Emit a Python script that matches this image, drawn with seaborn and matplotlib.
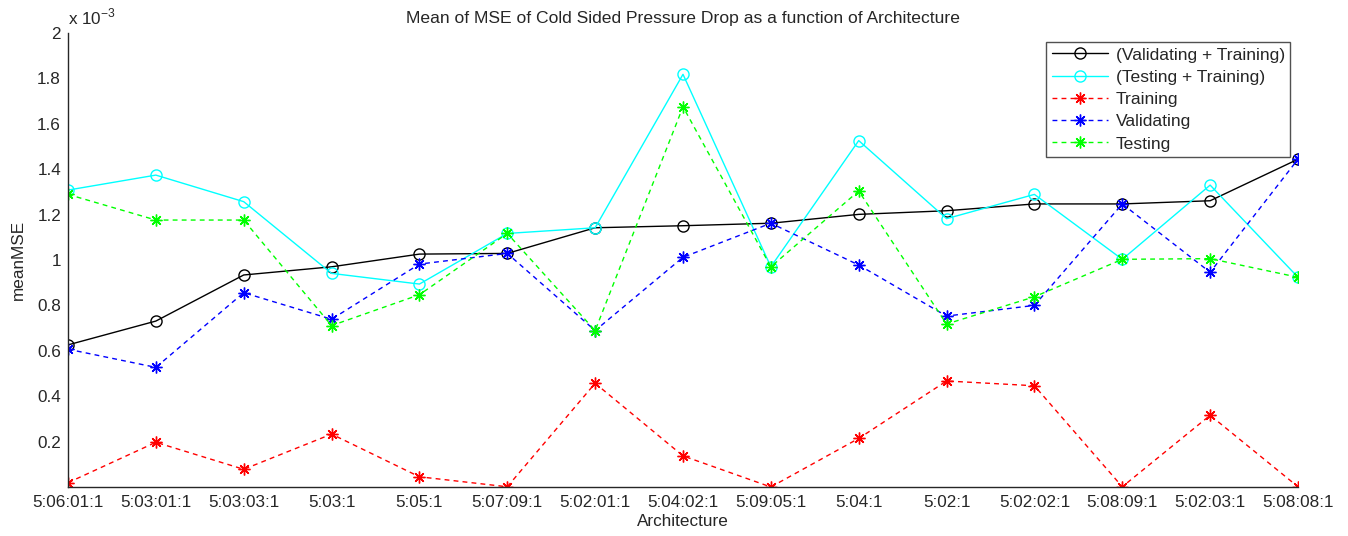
import matplotlib
matplotlib.use("Agg")
import matplotlib.pyplot as plt
import seaborn as sns
import numpy as np

architectures = ["5:06:01:1", "5:03:01:1", "5:03:03:1", "5:03:1", "5:05:1",
                 "5:07:09:1", "5:02:01:1", "5:04:02:1", "5:09:05:1", "5:04:1",
                 "5:02:1", "5:02:02:1", "5:08:09:1", "5:02:03:1", "5:08:08:1"]

# values in units of 1e-3
val_train = [0.626, 0.731, 0.934, 0.970, 1.026, 1.029, 1.142, 1.151, 1.162, 1.201,
             1.217, 1.247, 1.247, 1.261, 1.444]
test_train = [1.308, 1.374, 1.257, 0.941, 0.894, 1.117, 1.142, 1.818, 0.970, 1.526,
              1.182, 1.289, 1.003, 1.330, 0.924]
training = [0.019, 0.197, 0.078, 0.233, 0.045, 0.001, 0.457, 0.137, 0.000, 0.214,
            0.467, 0.446, 0.001, 0.316, 0.001]
validating = [0.607, 0.527, 0.856, 0.739, 0.982, 1.029, 0.689, 1.012, 1.162, 0.978,
              0.753, 0.800, 1.247, 0.946, 1.444]
testing = [1.289, 1.176, 1.176, 0.711, 0.847, 1.117, 0.689, 1.675, 0.970, 1.304,
           0.718, 0.838, 1.003, 1.006, 0.924]

sns.set_style("white")
plt.rcParams['font.family'] = ['Liberation Sans', 'DejaVu Sans']

fig = plt.figure(figsize=(13.48, 5.36), dpi=100)
ax = fig.add_axes([68/1348, 1 - 487/536, (1298 - 68)/1348, (487 - 33)/536])

x = np.arange(len(architectures))
series = [
    ("(Validating + Training)", val_train, "#000000", "-", "o"),
    ("(Testing + Training)", test_train, "#00FFFF", "-", "o"),
    ("Training", training, "#FF0000", "--", "*"),
    ("Validating", validating, "#0000FF", "--", "*"),
    ("Testing", testing, "#00FF00", "--", "*"),
]
for label, vals, col, ls, mk in series:
    if mk == "o":
        sns.lineplot(x=x, y=vals, ax=ax, color=col, linestyle=ls, marker="o",
                     markersize=8, markerfacecolor="none", markeredgecolor=col,
                     markeredgewidth=1.0, linewidth=1.0, label=label)
    else:
        sns.lineplot(x=x, y=vals, ax=ax, color=col, marker=(8, 2, 0),
                     markersize=8.5, markerfacecolor=col, markeredgecolor=col,
                     markeredgewidth=1.0, linewidth=1.0, label=label)
        ax.lines[-1].set_linestyle((0, (3.5, 3.0)))

ax.set_xlim(0, len(architectures) - 1)
ax.set_ylim(0, 2)
ax.set_xticks(x)
ax.set_xticklabels(architectures)
yt = [0.2, 0.4, 0.6, 0.8, 1.0, 1.2, 1.4, 1.6, 1.8, 2.0]
ax.set_yticks(yt)
ax.set_yticklabels(["%g" % v for v in yt])

for s in ["top", "right"]:
    ax.spines[s].set_visible(False)
for s in ["left", "bottom"]:
    ax.spines[s].set_color("#262626")
    ax.spines[s].set_linewidth(1.0)
ax.tick_params(axis="both", direction="in", length=9, width=1.0, color="#262626",
               labelsize=12.3, labelcolor="#262626", pad=6)
ax.tick_params(axis="y", pad=5)

ax.set_title("Mean of MSE of Cold Sided Pressure Drop as a function of Architecture",
             fontsize=12.6, color="#262626", pad=7)
ax.set_xlabel("Architecture", fontsize=12.3, color="#262626", labelpad=3)
ax.set_ylabel("meanMSE", fontsize=12.3, color="#262626", labelpad=8)
ax.text(0.0, 1.012, r"x 10$^{\mathregular{-3}}$", transform=ax.transAxes, fontsize=12.3,
        color="#262626", ha="left", va="bottom")

leg = ax.legend(loc="upper right",
                bbox_to_anchor=((1290 - 68) / (1298 - 68), (487 - 42) / (487 - 33)),
                fontsize=12.6, frameon=True, fancybox=False, edgecolor="#262626",
                handlelength=3.2, labelspacing=0.4, borderpad=0.3,
                handletextpad=0.45, borderaxespad=0.0)
leg.get_frame().set_linewidth(1.0)
for t in leg.get_texts():
    t.set_color("#262626")

fig.savefig("out.png", dpi=100, facecolor="white")
